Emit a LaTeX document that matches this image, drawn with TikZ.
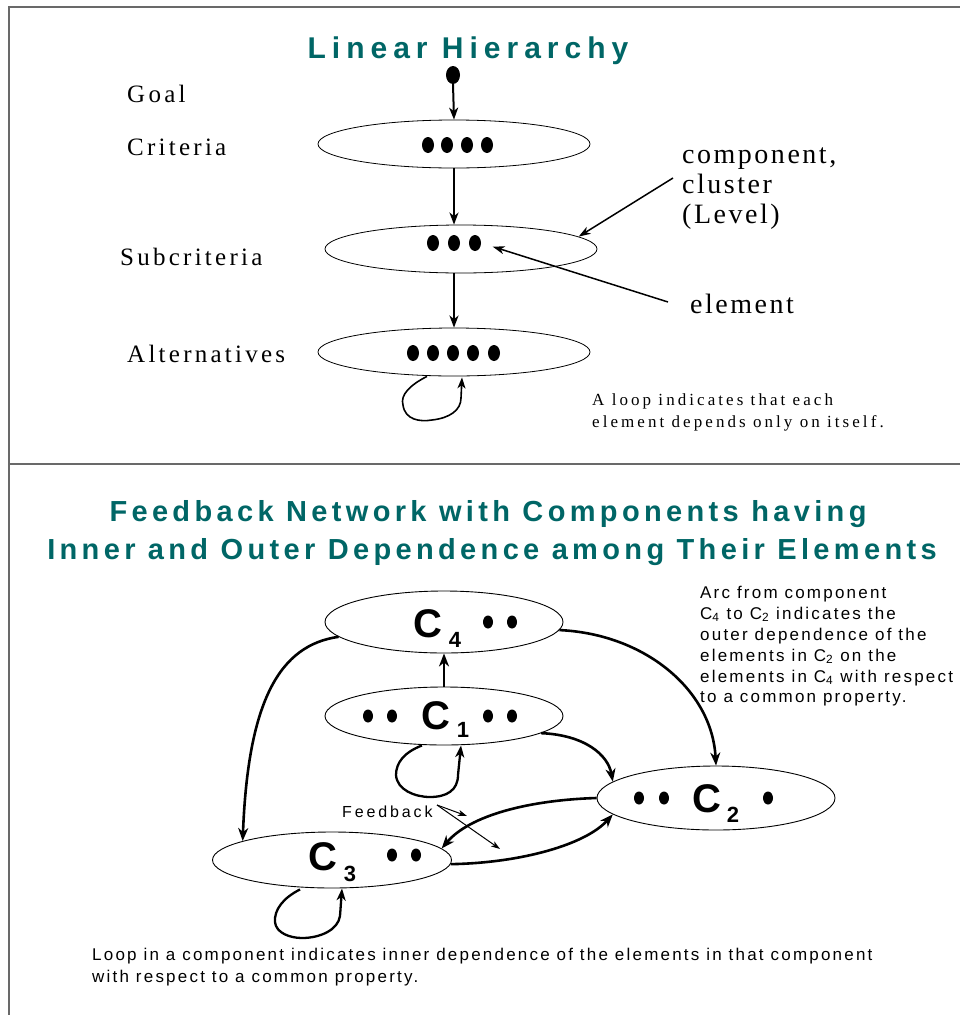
\documentclass[tikz,border=0pt]{standalone}
\usepackage{fontspec}
\setmainfont{Liberation Serif}
\setsansfont{Liberation Sans}
\newfontfamily\labfont[LetterSpace=13]{Liberation Serif}
\newfontfamily\compfont[LetterSpace=9]{Liberation Serif}
\newfontfamily\notefont[LetterSpace=18]{Liberation Serif}
\newfontfamily\titlefontA[LetterSpace=20]{Liberation Sans}
\newfontfamily\titlefontB[LetterSpace=15]{Liberation Sans}
\newfontfamily\sansnote[LetterSpace=13]{Liberation Sans}
\newfontfamily\fbfont[LetterSpace=18]{Liberation Sans}
\newfontfamily\cfont{Liberation Sans}
\usetikzlibrary{arrows.meta,shapes.geometric,calc}
\definecolor{titlecol}{RGB}{0,102,102}
\definecolor{framecol}{RGB}{105,105,105}
\begin{document}
\begin{tikzpicture}[x=1pt,y=-1pt,
  lvl/.style={ellipse,draw,line width=0.8pt,minimum width=272pt,minimum height=48pt,inner sep=0pt},
  comp/.style={ellipse,draw,line width=0.9pt,inner sep=0pt},
  bdot/.style={ellipse,fill,inner sep=0pt,minimum width=12pt,minimum height=16pt},
  sdot/.style={ellipse,fill,inner sep=0pt,minimum width=10pt,minimum height=13pt},
  arr/.style={line width=2pt,-{Stealth[length=12pt,width=9pt,inset=3.5pt]}},
  thinarrow/.style={line width=1.5pt,-{Stealth[length=12pt,width=8pt,inset=3.5pt]}},
  bigarc/.style={line width=2.6pt,-{Stealth[length=13pt,width=10pt,inset=4pt]}},
  loopA/.style={line width=1.6pt,-{Stealth[length=11pt,width=8pt,inset=3pt]}},
  loopB/.style={line width=2.3pt,-{Stealth[length=12pt,width=9pt,inset=3.5pt]}},
  fbarrow/.style={line width=1pt,-{Stealth[length=9pt,width=6pt,inset=2.5pt]}},
  lab/.style={anchor=base west,inner sep=0pt,font={\labfont\fontsize{25}{30}\selectfont}},
  complab/.style={anchor=base west,inner sep=0pt,font={\compfont\fontsize{28}{32}\selectfont}},
  notetxt/.style={anchor=base west,inner sep=0pt,font={\notefont\fontsize{17}{20}\selectfont}},
  titleA/.style={anchor=base,inner sep=0pt,text=titlecol,font={\titlefontA\bfseries\fontsize{30}{32}\selectfont}},
  titleB/.style={anchor=base,inner sep=0pt,text=titlecol,font={\titlefontB\bfseries\fontsize{29}{32}\selectfont}},
  sn/.style={anchor=base west,inner sep=0pt,font={\sansnote\fontsize{17}{20}\selectfont}},
  fbl/.style={anchor=base west,inner sep=0pt,font={\fbfont\fontsize{16}{18}\selectfont}},
  clab/.style={inner sep=0pt,font={\cfont\bfseries\fontsize{40}{44}\selectfont}},
  csub/.style={inner sep=0pt,font={\cfont\bfseries\fontsize{22}{24}\selectfont}}
]
\useasboundingbox (0,0) rectangle (960,1015);
% frame
\draw[framecol,line width=2pt] (960,7) -- (9,7) -- (9,1015);
\draw[framecol,line width=2pt] (9,464) -- (960,464);

% ---------------- Linear hierarchy ----------------
\node[titleA] (t1) at (468,58) {Linear Hierarchy};
\node[ellipse,fill,inner sep=0pt,minimum width=14pt,minimum height=18pt] (goal) at (453,75) {};
\node[lvl] (crit) at (454,144) {};
\node[lvl] (subc) at (461,249) {};
\node[lvl] (alt) at (454,352) {};
\foreach \x [count=\i] in {428,447,467,487} \node[bdot] (cr\i) at (\x,145) {};
\foreach \x [count=\i] in {433,454,475} \node[bdot] (sb\i) at (\x,243) {};
\foreach \x [count=\i] in {413,433,453,473,494} \node[bdot] (al\i) at (\x,353) {};

\draw[arr] (goal.south) -- (crit.north);
\draw[arr] (crit.south) -- (crit.south |- subc.north);
\draw[arr] (alt.north |- subc.south) -- (alt.north);

\node[lab] (goalL) at (127,102) {Goal};
\node[lab] (critL) at (127,155) {Criteria};
\node[lab] (subL) at (120,265) {Subcriteria};
\node[lab] (altL) at (127,362) {Alternatives};

\node[complab] (cmp1) at (682,163) {component,};
\node[complab] (cmp2) at (682,193) {cluster};
\node[complab] (cmp3) at (682,223) {(Level)};
\node[complab] (elt) at (690,313) {element};
\coordinate (cmpA) at (673,178);
\coordinate (eltA) at (668,302);
\draw[thinarrow] (cmpA) -- (subc.6);
\draw[thinarrow,shorten >=12pt] (eltA) -- (sb3.east);

\draw[loopA] ($(alt.south)+(-27,0)$) .. controls (410,385) and (400,395) .. (403,405)
  .. controls (405,420) and (420,422) .. (432,420)
  .. controls (450,418) and (461,410) .. (461,398) -- ($(alt.south)+(8,1)$);

\node[notetxt] (n1) at (592,405) {A loop indicates that each};
\node[notetxt] (n2) at (592,427) {element depends only on itself.};

% ---------------- Feedback network ----------------
\node[titleB] (t2a) at (488,521) {Feedback Network with Components having};
\node[titleB] (t2b) at (492,559) {Inner and Outer Dependence among Their Elements};

\node[comp,minimum width=238pt,minimum height=62pt] (c4) at (444,622) {};
\node[comp,minimum width=238pt,minimum height=58pt] (c1) at (444,716) {};
\node[comp,minimum width=238pt,minimum height=64pt] (c2) at (716,798) {};
\node[comp,minimum width=239pt,minimum height=56pt] (c3) at (332,860) {};

\node[clab] (c4C) at (428,624) {C}; \node[csub] (c4s) at (455,640) {4};
\node[clab] (c1C) at (436,716) {C}; \node[csub] (c1s) at (463,730) {1};
\node[clab] (c2C) at (707,799) {C}; \node[csub] (c2s) at (733,815) {2};
\node[clab] (c3C) at (323,857) {C}; \node[csub] (c3s) at (350,874) {3};

\foreach \x [count=\i] in {488,512} \node[sdot] (dq\i) at (\x,622) {};
\foreach \x [count=\i] in {368,392,488,512} \node[sdot] (da\i) at (\x,716) {};
\foreach \x [count=\i] in {639,664,768} \node[sdot] (db\i) at (\x,798) {};
\foreach \x [count=\i] in {392,416} \node[sdot] (dc\i) at (\x,855) {};

\draw[bigarc] (c1.north) -- (c4.south);
\draw[bigarc] (c4.188) .. controls (280,645) and (248,700) .. (c3.168);
\draw[bigarc] (c4.-4) .. controls (645,634) and (712,690) .. (c2.north);
\draw[bigarc] (c1.-10) .. controls (585,735) and (608,755) .. (c2.171);
\draw[bigarc] (c2.west) .. controls (530,800) and (470,815) .. (c3.6);
\draw[bigarc] (c3.-2) .. controls (520,863) and (585,845) .. (c2.189);

\draw[loopB] ($(c1.south)+(-22,0)$) .. controls (405,752) and (396,762) .. (396,775)
  .. controls (397,790) and (415,797) .. (430,797)
  .. controls (447,797) and (458,790) .. (458,775) -- ($(c1.south)+(17,0)$);
\draw[loopB] ($(c3.south)+(-32,1)$) .. controls (283,898) and (274,910) .. (275,922)
  .. controls (276,933) and (290,938) .. (302,938)
  .. controls (320,938) and (338,930) .. (340,916) -- ($(c3.south)+(10,0)$);

\node[fbl] (fb) at (342,817) {Feedback};
\coordinate (fbS) at (437,805);
\coordinate (fbT1) at (467,816);
\coordinate (fbT2) at (500,849);
\draw[fbarrow] (fbS) -- (fbT1);
\draw[fbarrow] (fbS) -- (fbT2);

\node[sn] (a1) at (700,598) {Arc from component};
\node[sn] (a2) at (700,619) {C\textsubscript{4} to C\textsubscript{2} indicates the};
\node[sn] (a3) at (700,640) {outer dependence of the};
\node[sn] (a4) at (700,661) {elements in C\textsubscript{2} on the};
\node[sn] (a5) at (700,682) {elements in C\textsubscript{4} with respect};
\node[sn] (a6) at (700,702) {to a common property.};

\node[sn] (b1) at (92,960) {Loop in a component indicates inner dependence of the elements in that component};
\node[sn] (b2) at (92,982) {with respect to a common property.};
\end{tikzpicture}
\end{document}
